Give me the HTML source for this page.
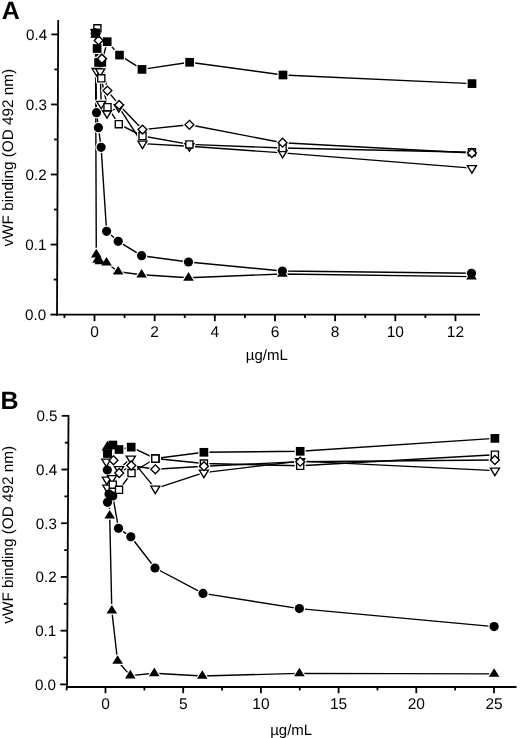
<!DOCTYPE html>
<html><head><meta charset="utf-8"><style>
html,body{margin:0;padding:0;background:#fff;overflow:hidden;width:520px;height:738px;}
svg{display:block;filter:grayscale(1);}
text{font-family:"Liberation Sans", sans-serif;fill:#000;text-rendering:geometricPrecision;}
</style></head><body>
<svg width="520" height="738" viewBox="0 0 520 738">
<rect width="520" height="738" fill="#fff"/>
<line x1="58.20" y1="20.00" x2="57.00" y2="315.40" stroke="#000" stroke-width="1.8"/>
<line x1="56.20" y1="314.60" x2="480.00" y2="314.60" stroke="#000" stroke-width="1.8"/>
<line x1="50.40" y1="314.60" x2="57.20" y2="314.60" stroke="#000" stroke-width="1.8"/>
<text x="46.20" y="319.90" font-size="15.2" text-anchor="end" font-weight="normal" >0.0</text>
<line x1="50.64" y1="244.55" x2="57.44" y2="244.55" stroke="#000" stroke-width="1.8"/>
<text x="46.44" y="249.85" font-size="15.2" text-anchor="end" font-weight="normal" >0.1</text>
<line x1="50.88" y1="174.50" x2="57.68" y2="174.50" stroke="#000" stroke-width="1.8"/>
<text x="46.68" y="179.80" font-size="15.2" text-anchor="end" font-weight="normal" >0.2</text>
<line x1="51.11" y1="104.45" x2="57.91" y2="104.45" stroke="#000" stroke-width="1.8"/>
<text x="46.91" y="109.75" font-size="15.2" text-anchor="end" font-weight="normal" >0.3</text>
<line x1="51.35" y1="34.40" x2="58.15" y2="34.40" stroke="#000" stroke-width="1.8"/>
<text x="47.15" y="39.70" font-size="15.2" text-anchor="end" font-weight="normal" >0.4</text>
<line x1="53.72" y1="279.58" x2="57.32" y2="279.58" stroke="#000" stroke-width="1.8"/>
<line x1="53.96" y1="209.53" x2="57.56" y2="209.53" stroke="#000" stroke-width="1.8"/>
<line x1="54.19" y1="139.48" x2="57.79" y2="139.48" stroke="#000" stroke-width="1.8"/>
<line x1="54.43" y1="69.43" x2="58.03" y2="69.43" stroke="#000" stroke-width="1.8"/>
<line x1="64.42" y1="314.60" x2="64.42" y2="318.00" stroke="#000" stroke-width="1.8"/>
<line x1="94.50" y1="314.60" x2="94.50" y2="321.20" stroke="#000" stroke-width="1.8"/>
<text x="94.50" y="336.80" font-size="15.5" text-anchor="middle" font-weight="normal" >0</text>
<line x1="124.58" y1="314.60" x2="124.58" y2="318.00" stroke="#000" stroke-width="1.8"/>
<line x1="154.66" y1="314.60" x2="154.66" y2="321.20" stroke="#000" stroke-width="1.8"/>
<text x="154.66" y="336.80" font-size="15.5" text-anchor="middle" font-weight="normal" >2</text>
<line x1="184.74" y1="314.60" x2="184.74" y2="318.00" stroke="#000" stroke-width="1.8"/>
<line x1="214.82" y1="314.60" x2="214.82" y2="321.20" stroke="#000" stroke-width="1.8"/>
<text x="214.82" y="336.80" font-size="15.5" text-anchor="middle" font-weight="normal" >4</text>
<line x1="244.90" y1="314.60" x2="244.90" y2="318.00" stroke="#000" stroke-width="1.8"/>
<line x1="274.98" y1="314.60" x2="274.98" y2="321.20" stroke="#000" stroke-width="1.8"/>
<text x="274.98" y="336.80" font-size="15.5" text-anchor="middle" font-weight="normal" >6</text>
<line x1="305.06" y1="314.60" x2="305.06" y2="318.00" stroke="#000" stroke-width="1.8"/>
<line x1="335.14" y1="314.60" x2="335.14" y2="321.20" stroke="#000" stroke-width="1.8"/>
<text x="335.14" y="336.80" font-size="15.5" text-anchor="middle" font-weight="normal" >8</text>
<line x1="365.22" y1="314.60" x2="365.22" y2="318.00" stroke="#000" stroke-width="1.8"/>
<line x1="395.30" y1="314.60" x2="395.30" y2="321.20" stroke="#000" stroke-width="1.8"/>
<text x="395.30" y="336.80" font-size="15.5" text-anchor="middle" font-weight="normal" >10</text>
<line x1="425.38" y1="314.60" x2="425.38" y2="318.00" stroke="#000" stroke-width="1.8"/>
<line x1="455.46" y1="314.60" x2="455.46" y2="321.20" stroke="#000" stroke-width="1.8"/>
<text x="455.46" y="336.80" font-size="15.5" text-anchor="middle" font-weight="normal" >12</text>
<text x="266.80" y="359.70" font-size="15" text-anchor="middle" font-weight="normal" >µg/mL</text>
<text x="0" y="0" font-size="15.3" text-anchor="middle" transform="translate(12.6,157.7) rotate(-90)">vWF binding (OD 492 nm)</text>
<text x="1.70" y="18.80" font-size="25" text-anchor="start" font-weight="bold" >A</text>
<path d="M95.60 33.00L97.10 48.50L98.60 62.40L101.80 62.40L107.20 41.70L119.50 55.10L142.00 69.40L189.60 62.30L283.00 75.00L472.00 83.60" fill="none" stroke="#000" stroke-width="1.4" stroke-linejoin="round"/>
<path d="M95.50 32.10L96.60 71.00L100.20 71.40L101.20 103.80L107.00 113.20L118.80 107.20L142.50 143.60L189.40 146.20L282.60 152.90L471.90 168.10" fill="none" stroke="#000" stroke-width="1.4" stroke-linejoin="round"/>
<path d="M97.40 28.30L101.30 78.30L107.50 107.20L118.80 124.20L142.50 136.00L189.40 144.40L282.60 148.00L471.90 152.30" fill="none" stroke="#000" stroke-width="1.4" stroke-linejoin="round"/>
<path d="M95.80 33.50L98.70 40.40L101.90 58.70L107.40 90.60L119.10 104.90L142.50 129.60L189.40 124.80L282.60 142.70L471.90 153.00" fill="none" stroke="#000" stroke-width="1.4" stroke-linejoin="round"/>
<path d="M95.50 34.90L96.30 254.60L97.60 259.90L99.80 261.40L106.50 262.70L118.20 271.70L141.60 274.70L188.50 277.80L282.40 274.00L471.50 276.60" fill="none" stroke="#000" stroke-width="1.4" stroke-linejoin="round"/>
<path d="M95.30 33.00L96.50 112.70L98.40 127.70L101.10 147.30L106.60 231.30L118.20 241.30L141.60 255.70L188.50 262.00L282.40 271.00L471.50 273.30" fill="none" stroke="#000" stroke-width="1.4" stroke-linejoin="round"/>
<path d="M91.25 28.65h8.7v8.7h-8.7Z" fill="#fff" stroke="#fff" stroke-width="2.40" stroke-linejoin="round"/>
<path d="M92.75 44.15h8.7v8.7h-8.7Z" fill="#fff" stroke="#fff" stroke-width="2.40" stroke-linejoin="round"/>
<path d="M94.25 58.05h8.7v8.7h-8.7Z" fill="#fff" stroke="#fff" stroke-width="2.40" stroke-linejoin="round"/>
<path d="M97.45 58.05h8.7v8.7h-8.7Z" fill="#fff" stroke="#fff" stroke-width="2.40" stroke-linejoin="round"/>
<path d="M102.85 37.35h8.7v8.7h-8.7Z" fill="#fff" stroke="#fff" stroke-width="2.40" stroke-linejoin="round"/>
<path d="M115.15 50.75h8.7v8.7h-8.7Z" fill="#fff" stroke="#fff" stroke-width="2.40" stroke-linejoin="round"/>
<path d="M137.65 65.05h8.7v8.7h-8.7Z" fill="#fff" stroke="#fff" stroke-width="2.40" stroke-linejoin="round"/>
<path d="M185.25 57.95h8.7v8.7h-8.7Z" fill="#fff" stroke="#fff" stroke-width="2.40" stroke-linejoin="round"/>
<path d="M278.65 70.65h8.7v8.7h-8.7Z" fill="#fff" stroke="#fff" stroke-width="2.40" stroke-linejoin="round"/>
<path d="M467.65 79.25h8.7v8.7h-8.7Z" fill="#fff" stroke="#fff" stroke-width="2.40" stroke-linejoin="round"/>
<path d="M90.95 29.60L100.05 29.60L95.50 37.10Z" fill="#fff" stroke="#fff" stroke-width="3.75" stroke-linejoin="round"/>
<path d="M92.05 68.50L101.15 68.50L96.60 76.00Z" fill="#fff" stroke="#fff" stroke-width="3.75" stroke-linejoin="round"/>
<path d="M95.65 68.90L104.75 68.90L100.20 76.40Z" fill="#fff" stroke="#fff" stroke-width="3.75" stroke-linejoin="round"/>
<path d="M96.65 101.30L105.75 101.30L101.20 108.80Z" fill="#fff" stroke="#fff" stroke-width="3.75" stroke-linejoin="round"/>
<path d="M102.45 110.70L111.55 110.70L107.00 118.20Z" fill="#fff" stroke="#fff" stroke-width="3.75" stroke-linejoin="round"/>
<path d="M114.25 104.70L123.35 104.70L118.80 112.20Z" fill="#fff" stroke="#fff" stroke-width="3.75" stroke-linejoin="round"/>
<path d="M137.95 141.10L147.05 141.10L142.50 148.60Z" fill="#fff" stroke="#fff" stroke-width="3.75" stroke-linejoin="round"/>
<path d="M184.85 143.70L193.95 143.70L189.40 151.20Z" fill="#fff" stroke="#fff" stroke-width="3.75" stroke-linejoin="round"/>
<path d="M278.05 150.40L287.15 150.40L282.60 157.90Z" fill="#fff" stroke="#fff" stroke-width="3.75" stroke-linejoin="round"/>
<path d="M467.35 165.60L476.45 165.60L471.90 173.10Z" fill="#fff" stroke="#fff" stroke-width="3.75" stroke-linejoin="round"/>
<path d="M93.85 24.75h7.1v7.1h-7.1Z" fill="#fff" stroke="#fff" stroke-width="3.75" stroke-linejoin="round"/>
<path d="M97.75 74.75h7.1v7.1h-7.1Z" fill="#fff" stroke="#fff" stroke-width="3.75" stroke-linejoin="round"/>
<path d="M103.95 103.65h7.1v7.1h-7.1Z" fill="#fff" stroke="#fff" stroke-width="3.75" stroke-linejoin="round"/>
<path d="M115.25 120.65h7.1v7.1h-7.1Z" fill="#fff" stroke="#fff" stroke-width="3.75" stroke-linejoin="round"/>
<path d="M138.95 132.45h7.1v7.1h-7.1Z" fill="#fff" stroke="#fff" stroke-width="3.75" stroke-linejoin="round"/>
<path d="M185.85 140.85h7.1v7.1h-7.1Z" fill="#fff" stroke="#fff" stroke-width="3.75" stroke-linejoin="round"/>
<path d="M279.05 144.45h7.1v7.1h-7.1Z" fill="#fff" stroke="#fff" stroke-width="3.75" stroke-linejoin="round"/>
<path d="M468.35 148.75h7.1v7.1h-7.1Z" fill="#fff" stroke="#fff" stroke-width="3.75" stroke-linejoin="round"/>
<path d="M95.80 29.05L100.25 33.50L95.80 37.95L91.35 33.50Z" fill="#fff" stroke="#fff" stroke-width="3.75" stroke-linejoin="round"/>
<path d="M98.70 35.95L103.15 40.40L98.70 44.85L94.25 40.40Z" fill="#fff" stroke="#fff" stroke-width="3.75" stroke-linejoin="round"/>
<path d="M101.90 54.25L106.35 58.70L101.90 63.15L97.45 58.70Z" fill="#fff" stroke="#fff" stroke-width="3.75" stroke-linejoin="round"/>
<path d="M107.40 86.15L111.85 90.60L107.40 95.05L102.95 90.60Z" fill="#fff" stroke="#fff" stroke-width="3.75" stroke-linejoin="round"/>
<path d="M119.10 100.45L123.55 104.90L119.10 109.35L114.65 104.90Z" fill="#fff" stroke="#fff" stroke-width="3.75" stroke-linejoin="round"/>
<path d="M142.50 125.15L146.95 129.60L142.50 134.05L138.05 129.60Z" fill="#fff" stroke="#fff" stroke-width="3.75" stroke-linejoin="round"/>
<path d="M189.40 120.35L193.85 124.80L189.40 129.25L184.95 124.80Z" fill="#fff" stroke="#fff" stroke-width="3.75" stroke-linejoin="round"/>
<path d="M282.60 138.25L287.05 142.70L282.60 147.15L278.15 142.70Z" fill="#fff" stroke="#fff" stroke-width="3.75" stroke-linejoin="round"/>
<path d="M471.90 148.55L476.35 153.00L471.90 157.45L467.45 153.00Z" fill="#fff" stroke="#fff" stroke-width="3.75" stroke-linejoin="round"/>
<path d="M95.50 29.17L100.80 37.77L90.20 37.77Z" fill="#fff" stroke="#fff" stroke-width="2.40" stroke-linejoin="round"/>
<path d="M96.30 248.87L101.60 257.47L91.00 257.47Z" fill="#fff" stroke="#fff" stroke-width="2.40" stroke-linejoin="round"/>
<path d="M97.60 254.17L102.90 262.77L92.30 262.77Z" fill="#fff" stroke="#fff" stroke-width="2.40" stroke-linejoin="round"/>
<path d="M99.80 255.67L105.10 264.27L94.50 264.27Z" fill="#fff" stroke="#fff" stroke-width="2.40" stroke-linejoin="round"/>
<path d="M106.50 256.97L111.80 265.57L101.20 265.57Z" fill="#fff" stroke="#fff" stroke-width="2.40" stroke-linejoin="round"/>
<path d="M118.20 265.97L123.50 274.57L112.90 274.57Z" fill="#fff" stroke="#fff" stroke-width="2.40" stroke-linejoin="round"/>
<path d="M141.60 268.97L146.90 277.57L136.30 277.57Z" fill="#fff" stroke="#fff" stroke-width="2.40" stroke-linejoin="round"/>
<path d="M188.50 272.07L193.80 280.67L183.20 280.67Z" fill="#fff" stroke="#fff" stroke-width="2.40" stroke-linejoin="round"/>
<path d="M282.40 268.27L287.70 276.87L277.10 276.87Z" fill="#fff" stroke="#fff" stroke-width="2.40" stroke-linejoin="round"/>
<path d="M471.50 270.87L476.80 279.47L466.20 279.47Z" fill="#fff" stroke="#fff" stroke-width="2.40" stroke-linejoin="round"/>
<path d="M90.70 33.00a4.6 4.6 0 1 0 9.2 0a4.6 4.6 0 1 0 -9.2 0Z" fill="#fff" stroke="#fff" stroke-width="2.40" stroke-linejoin="round"/>
<path d="M91.90 112.70a4.6 4.6 0 1 0 9.2 0a4.6 4.6 0 1 0 -9.2 0Z" fill="#fff" stroke="#fff" stroke-width="2.40" stroke-linejoin="round"/>
<path d="M93.80 127.70a4.6 4.6 0 1 0 9.2 0a4.6 4.6 0 1 0 -9.2 0Z" fill="#fff" stroke="#fff" stroke-width="2.40" stroke-linejoin="round"/>
<path d="M96.50 147.30a4.6 4.6 0 1 0 9.2 0a4.6 4.6 0 1 0 -9.2 0Z" fill="#fff" stroke="#fff" stroke-width="2.40" stroke-linejoin="round"/>
<path d="M102.00 231.30a4.6 4.6 0 1 0 9.2 0a4.6 4.6 0 1 0 -9.2 0Z" fill="#fff" stroke="#fff" stroke-width="2.40" stroke-linejoin="round"/>
<path d="M113.60 241.30a4.6 4.6 0 1 0 9.2 0a4.6 4.6 0 1 0 -9.2 0Z" fill="#fff" stroke="#fff" stroke-width="2.40" stroke-linejoin="round"/>
<path d="M137.00 255.70a4.6 4.6 0 1 0 9.2 0a4.6 4.6 0 1 0 -9.2 0Z" fill="#fff" stroke="#fff" stroke-width="2.40" stroke-linejoin="round"/>
<path d="M183.90 262.00a4.6 4.6 0 1 0 9.2 0a4.6 4.6 0 1 0 -9.2 0Z" fill="#fff" stroke="#fff" stroke-width="2.40" stroke-linejoin="round"/>
<path d="M277.80 271.00a4.6 4.6 0 1 0 9.2 0a4.6 4.6 0 1 0 -9.2 0Z" fill="#fff" stroke="#fff" stroke-width="2.40" stroke-linejoin="round"/>
<path d="M466.90 273.30a4.6 4.6 0 1 0 9.2 0a4.6 4.6 0 1 0 -9.2 0Z" fill="#fff" stroke="#fff" stroke-width="2.40" stroke-linejoin="round"/>
<path d="M90.95 29.60L100.05 29.60L95.50 37.10Z" fill="#fff" stroke="#000" stroke-width="1.35" stroke-linejoin="miter"/>
<path d="M92.05 68.50L101.15 68.50L96.60 76.00Z" fill="#fff" stroke="#000" stroke-width="1.35" stroke-linejoin="miter"/>
<path d="M95.65 68.90L104.75 68.90L100.20 76.40Z" fill="#fff" stroke="#000" stroke-width="1.35" stroke-linejoin="miter"/>
<path d="M96.65 101.30L105.75 101.30L101.20 108.80Z" fill="#fff" stroke="#000" stroke-width="1.35" stroke-linejoin="miter"/>
<path d="M102.45 110.70L111.55 110.70L107.00 118.20Z" fill="#fff" stroke="#000" stroke-width="1.35" stroke-linejoin="miter"/>
<path d="M114.25 104.70L123.35 104.70L118.80 112.20Z" fill="#fff" stroke="#000" stroke-width="1.35" stroke-linejoin="miter"/>
<path d="M137.95 141.10L147.05 141.10L142.50 148.60Z" fill="#fff" stroke="#000" stroke-width="1.35" stroke-linejoin="miter"/>
<path d="M184.85 143.70L193.95 143.70L189.40 151.20Z" fill="#fff" stroke="#000" stroke-width="1.35" stroke-linejoin="miter"/>
<path d="M278.05 150.40L287.15 150.40L282.60 157.90Z" fill="#fff" stroke="#000" stroke-width="1.35" stroke-linejoin="miter"/>
<path d="M467.35 165.60L476.45 165.60L471.90 173.10Z" fill="#fff" stroke="#000" stroke-width="1.35" stroke-linejoin="miter"/>
<path d="M93.85 24.75h7.1v7.1h-7.1Z" fill="#fff" stroke="#000" stroke-width="1.35" stroke-linejoin="miter"/>
<path d="M97.75 74.75h7.1v7.1h-7.1Z" fill="#fff" stroke="#000" stroke-width="1.35" stroke-linejoin="miter"/>
<path d="M103.95 103.65h7.1v7.1h-7.1Z" fill="#fff" stroke="#000" stroke-width="1.35" stroke-linejoin="miter"/>
<path d="M115.25 120.65h7.1v7.1h-7.1Z" fill="#fff" stroke="#000" stroke-width="1.35" stroke-linejoin="miter"/>
<path d="M138.95 132.45h7.1v7.1h-7.1Z" fill="#fff" stroke="#000" stroke-width="1.35" stroke-linejoin="miter"/>
<path d="M185.85 140.85h7.1v7.1h-7.1Z" fill="#fff" stroke="#000" stroke-width="1.35" stroke-linejoin="miter"/>
<path d="M279.05 144.45h7.1v7.1h-7.1Z" fill="#fff" stroke="#000" stroke-width="1.35" stroke-linejoin="miter"/>
<path d="M468.35 148.75h7.1v7.1h-7.1Z" fill="#fff" stroke="#000" stroke-width="1.35" stroke-linejoin="miter"/>
<path d="M95.80 29.05L100.25 33.50L95.80 37.95L91.35 33.50Z" fill="#fff" stroke="#000" stroke-width="1.35" stroke-linejoin="miter"/>
<path d="M98.70 35.95L103.15 40.40L98.70 44.85L94.25 40.40Z" fill="#fff" stroke="#000" stroke-width="1.35" stroke-linejoin="miter"/>
<path d="M101.90 54.25L106.35 58.70L101.90 63.15L97.45 58.70Z" fill="#fff" stroke="#000" stroke-width="1.35" stroke-linejoin="miter"/>
<path d="M107.40 86.15L111.85 90.60L107.40 95.05L102.95 90.60Z" fill="#fff" stroke="#000" stroke-width="1.35" stroke-linejoin="miter"/>
<path d="M119.10 100.45L123.55 104.90L119.10 109.35L114.65 104.90Z" fill="#fff" stroke="#000" stroke-width="1.35" stroke-linejoin="miter"/>
<path d="M142.50 125.15L146.95 129.60L142.50 134.05L138.05 129.60Z" fill="#fff" stroke="#000" stroke-width="1.35" stroke-linejoin="miter"/>
<path d="M189.40 120.35L193.85 124.80L189.40 129.25L184.95 124.80Z" fill="#fff" stroke="#000" stroke-width="1.35" stroke-linejoin="miter"/>
<path d="M282.60 138.25L287.05 142.70L282.60 147.15L278.15 142.70Z" fill="#fff" stroke="#000" stroke-width="1.35" stroke-linejoin="miter"/>
<path d="M471.90 148.55L476.35 153.00L471.90 157.45L467.45 153.00Z" fill="#fff" stroke="#000" stroke-width="1.35" stroke-linejoin="miter"/>
<path d="M91.25 28.65h8.7v8.7h-8.7Z" fill="#000"/>
<path d="M92.75 44.15h8.7v8.7h-8.7Z" fill="#000"/>
<path d="M94.25 58.05h8.7v8.7h-8.7Z" fill="#000"/>
<path d="M97.45 58.05h8.7v8.7h-8.7Z" fill="#000"/>
<path d="M102.85 37.35h8.7v8.7h-8.7Z" fill="#000"/>
<path d="M115.15 50.75h8.7v8.7h-8.7Z" fill="#000"/>
<path d="M137.65 65.05h8.7v8.7h-8.7Z" fill="#000"/>
<path d="M185.25 57.95h8.7v8.7h-8.7Z" fill="#000"/>
<path d="M278.65 70.65h8.7v8.7h-8.7Z" fill="#000"/>
<path d="M467.65 79.25h8.7v8.7h-8.7Z" fill="#000"/>
<path d="M95.50 29.17L100.80 37.77L90.20 37.77Z" fill="#000"/>
<path d="M96.30 248.87L101.60 257.47L91.00 257.47Z" fill="#000"/>
<path d="M97.60 254.17L102.90 262.77L92.30 262.77Z" fill="#000"/>
<path d="M99.80 255.67L105.10 264.27L94.50 264.27Z" fill="#000"/>
<path d="M106.50 256.97L111.80 265.57L101.20 265.57Z" fill="#000"/>
<path d="M118.20 265.97L123.50 274.57L112.90 274.57Z" fill="#000"/>
<path d="M141.60 268.97L146.90 277.57L136.30 277.57Z" fill="#000"/>
<path d="M188.50 272.07L193.80 280.67L183.20 280.67Z" fill="#000"/>
<path d="M282.40 268.27L287.70 276.87L277.10 276.87Z" fill="#000"/>
<path d="M471.50 270.87L476.80 279.47L466.20 279.47Z" fill="#000"/>
<path d="M90.70 33.00a4.6 4.6 0 1 0 9.2 0a4.6 4.6 0 1 0 -9.2 0Z" fill="#000"/>
<path d="M91.90 112.70a4.6 4.6 0 1 0 9.2 0a4.6 4.6 0 1 0 -9.2 0Z" fill="#000"/>
<path d="M93.80 127.70a4.6 4.6 0 1 0 9.2 0a4.6 4.6 0 1 0 -9.2 0Z" fill="#000"/>
<path d="M96.50 147.30a4.6 4.6 0 1 0 9.2 0a4.6 4.6 0 1 0 -9.2 0Z" fill="#000"/>
<path d="M102.00 231.30a4.6 4.6 0 1 0 9.2 0a4.6 4.6 0 1 0 -9.2 0Z" fill="#000"/>
<path d="M113.60 241.30a4.6 4.6 0 1 0 9.2 0a4.6 4.6 0 1 0 -9.2 0Z" fill="#000"/>
<path d="M137.00 255.70a4.6 4.6 0 1 0 9.2 0a4.6 4.6 0 1 0 -9.2 0Z" fill="#000"/>
<path d="M183.90 262.00a4.6 4.6 0 1 0 9.2 0a4.6 4.6 0 1 0 -9.2 0Z" fill="#000"/>
<path d="M277.80 271.00a4.6 4.6 0 1 0 9.2 0a4.6 4.6 0 1 0 -9.2 0Z" fill="#000"/>
<path d="M466.90 273.30a4.6 4.6 0 1 0 9.2 0a4.6 4.6 0 1 0 -9.2 0Z" fill="#000"/>
<path d="M101.90 54.25L106.35 58.70L101.90 63.15L97.45 58.70Z" fill="#fff" stroke="#000" stroke-width="1.35" stroke-linejoin="miter"/>
<line x1="68.50" y1="415.00" x2="67.00" y2="688.00" stroke="#000" stroke-width="1.8"/>
<line x1="66.20" y1="687.00" x2="516.50" y2="687.00" stroke="#000" stroke-width="1.8"/>
<line x1="60.20" y1="684.40" x2="67.00" y2="684.40" stroke="#000" stroke-width="1.8"/>
<text x="56.00" y="689.70" font-size="15.2" text-anchor="end" font-weight="normal" >0.0</text>
<line x1="60.50" y1="630.68" x2="67.30" y2="630.68" stroke="#000" stroke-width="1.8"/>
<text x="56.30" y="635.98" font-size="15.2" text-anchor="end" font-weight="normal" >0.1</text>
<line x1="60.80" y1="576.96" x2="67.60" y2="576.96" stroke="#000" stroke-width="1.8"/>
<text x="56.60" y="582.26" font-size="15.2" text-anchor="end" font-weight="normal" >0.2</text>
<line x1="61.10" y1="523.24" x2="67.90" y2="523.24" stroke="#000" stroke-width="1.8"/>
<text x="56.90" y="528.54" font-size="15.2" text-anchor="end" font-weight="normal" >0.3</text>
<line x1="61.40" y1="469.52" x2="68.20" y2="469.52" stroke="#000" stroke-width="1.8"/>
<text x="57.20" y="474.82" font-size="15.2" text-anchor="end" font-weight="normal" >0.4</text>
<line x1="61.70" y1="415.80" x2="68.50" y2="415.80" stroke="#000" stroke-width="1.8"/>
<text x="57.50" y="421.10" font-size="15.2" text-anchor="end" font-weight="normal" >0.5</text>
<line x1="63.55" y1="657.54" x2="67.15" y2="657.54" stroke="#000" stroke-width="1.8"/>
<line x1="63.85" y1="603.82" x2="67.45" y2="603.82" stroke="#000" stroke-width="1.8"/>
<line x1="64.15" y1="550.10" x2="67.75" y2="550.10" stroke="#000" stroke-width="1.8"/>
<line x1="64.45" y1="496.38" x2="68.05" y2="496.38" stroke="#000" stroke-width="1.8"/>
<line x1="64.75" y1="442.66" x2="68.35" y2="442.66" stroke="#000" stroke-width="1.8"/>
<line x1="66.65" y1="687.00" x2="66.65" y2="690.40" stroke="#000" stroke-width="1.8"/>
<line x1="105.50" y1="687.00" x2="105.50" y2="693.20" stroke="#000" stroke-width="1.8"/>
<text x="105.50" y="708.80" font-size="15.5" text-anchor="middle" font-weight="normal" >0</text>
<line x1="144.35" y1="687.00" x2="144.35" y2="690.40" stroke="#000" stroke-width="1.8"/>
<line x1="183.20" y1="687.00" x2="183.20" y2="693.20" stroke="#000" stroke-width="1.8"/>
<text x="183.20" y="708.80" font-size="15.5" text-anchor="middle" font-weight="normal" >5</text>
<line x1="222.05" y1="687.00" x2="222.05" y2="690.40" stroke="#000" stroke-width="1.8"/>
<line x1="260.90" y1="687.00" x2="260.90" y2="693.20" stroke="#000" stroke-width="1.8"/>
<text x="260.90" y="708.80" font-size="15.5" text-anchor="middle" font-weight="normal" >10</text>
<line x1="299.75" y1="687.00" x2="299.75" y2="690.40" stroke="#000" stroke-width="1.8"/>
<line x1="338.60" y1="687.00" x2="338.60" y2="693.20" stroke="#000" stroke-width="1.8"/>
<text x="338.60" y="708.80" font-size="15.5" text-anchor="middle" font-weight="normal" >15</text>
<line x1="377.45" y1="687.00" x2="377.45" y2="690.40" stroke="#000" stroke-width="1.8"/>
<line x1="416.30" y1="687.00" x2="416.30" y2="693.20" stroke="#000" stroke-width="1.8"/>
<text x="416.30" y="708.80" font-size="15.5" text-anchor="middle" font-weight="normal" >20</text>
<line x1="455.15" y1="687.00" x2="455.15" y2="690.40" stroke="#000" stroke-width="1.8"/>
<line x1="494.00" y1="687.00" x2="494.00" y2="693.20" stroke="#000" stroke-width="1.8"/>
<text x="494.00" y="708.80" font-size="15.5" text-anchor="middle" font-weight="normal" >25</text>
<text x="291.20" y="734.60" font-size="15" text-anchor="middle" font-weight="normal" >µg/mL</text>
<text x="0" y="0" font-size="15.3" text-anchor="middle" transform="translate(12.6,534.8) rotate(-90)">vWF binding (OD 492 nm)</text>
<text x="0.40" y="408.60" font-size="25" text-anchor="start" font-weight="bold" >B</text>
<path d="M107.50 453.50L112.90 445.00L119.00 449.50L131.20 447.10L155.30 458.50L203.90 452.30L300.20 451.30L494.90 438.40" fill="none" stroke="#000" stroke-width="1.4" stroke-linejoin="round"/>
<path d="M106.30 461.60L106.80 479.60L107.30 487.60L112.00 478.10L119.00 469.10L130.80 458.60L155.30 488.60L203.90 472.60L300.20 461.10L494.90 470.60" fill="none" stroke="#000" stroke-width="1.4" stroke-linejoin="round"/>
<path d="M107.50 453.00L112.80 484.70L119.00 489.80L131.50 473.00L155.30 458.50L203.90 463.50L300.20 465.80L494.90 454.70" fill="none" stroke="#000" stroke-width="1.4" stroke-linejoin="round"/>
<path d="M107.20 450.00L113.50 460.30L119.25 473.00L131.25 465.50L155.30 469.30L203.90 466.20L300.20 461.70L494.90 460.00" fill="none" stroke="#000" stroke-width="1.4" stroke-linejoin="round"/>
<path d="M107.50 446.50L109.70 515.70L111.80 610.70L117.60 661.00L130.30 675.60L154.30 673.30L202.30 676.00L299.40 673.40L494.10 673.90" fill="none" stroke="#000" stroke-width="1.4" stroke-linejoin="round"/>
<path d="M107.30 470.00L107.50 502.30L109.00 494.00L112.80 496.00L118.50 528.30L130.80 536.80L155.00 568.00L203.00 593.40L299.40 608.60L494.10 626.60" fill="none" stroke="#000" stroke-width="1.4" stroke-linejoin="round"/>
<path d="M103.15 449.15h8.7v8.7h-8.7Z" fill="#fff" stroke="#fff" stroke-width="2.40" stroke-linejoin="round"/>
<path d="M108.55 440.65h8.7v8.7h-8.7Z" fill="#fff" stroke="#fff" stroke-width="2.40" stroke-linejoin="round"/>
<path d="M114.65 445.15h8.7v8.7h-8.7Z" fill="#fff" stroke="#fff" stroke-width="2.40" stroke-linejoin="round"/>
<path d="M126.85 442.75h8.7v8.7h-8.7Z" fill="#fff" stroke="#fff" stroke-width="2.40" stroke-linejoin="round"/>
<path d="M150.95 454.15h8.7v8.7h-8.7Z" fill="#fff" stroke="#fff" stroke-width="2.40" stroke-linejoin="round"/>
<path d="M199.55 447.95h8.7v8.7h-8.7Z" fill="#fff" stroke="#fff" stroke-width="2.40" stroke-linejoin="round"/>
<path d="M295.85 446.95h8.7v8.7h-8.7Z" fill="#fff" stroke="#fff" stroke-width="2.40" stroke-linejoin="round"/>
<path d="M490.55 434.05h8.7v8.7h-8.7Z" fill="#fff" stroke="#fff" stroke-width="2.40" stroke-linejoin="round"/>
<path d="M101.75 459.10L110.85 459.10L106.30 466.60Z" fill="#fff" stroke="#fff" stroke-width="3.75" stroke-linejoin="round"/>
<path d="M102.25 477.10L111.35 477.10L106.80 484.60Z" fill="#fff" stroke="#fff" stroke-width="3.75" stroke-linejoin="round"/>
<path d="M102.75 485.10L111.85 485.10L107.30 492.60Z" fill="#fff" stroke="#fff" stroke-width="3.75" stroke-linejoin="round"/>
<path d="M107.45 475.60L116.55 475.60L112.00 483.10Z" fill="#fff" stroke="#fff" stroke-width="3.75" stroke-linejoin="round"/>
<path d="M114.45 466.60L123.55 466.60L119.00 474.10Z" fill="#fff" stroke="#fff" stroke-width="3.75" stroke-linejoin="round"/>
<path d="M126.25 456.10L135.35 456.10L130.80 463.60Z" fill="#fff" stroke="#fff" stroke-width="3.75" stroke-linejoin="round"/>
<path d="M150.75 486.10L159.85 486.10L155.30 493.60Z" fill="#fff" stroke="#fff" stroke-width="3.75" stroke-linejoin="round"/>
<path d="M199.35 470.10L208.45 470.10L203.90 477.60Z" fill="#fff" stroke="#fff" stroke-width="3.75" stroke-linejoin="round"/>
<path d="M295.65 458.60L304.75 458.60L300.20 466.10Z" fill="#fff" stroke="#fff" stroke-width="3.75" stroke-linejoin="round"/>
<path d="M490.35 468.10L499.45 468.10L494.90 475.60Z" fill="#fff" stroke="#fff" stroke-width="3.75" stroke-linejoin="round"/>
<path d="M103.95 449.45h7.1v7.1h-7.1Z" fill="#fff" stroke="#fff" stroke-width="3.75" stroke-linejoin="round"/>
<path d="M109.25 481.15h7.1v7.1h-7.1Z" fill="#fff" stroke="#fff" stroke-width="3.75" stroke-linejoin="round"/>
<path d="M115.45 486.25h7.1v7.1h-7.1Z" fill="#fff" stroke="#fff" stroke-width="3.75" stroke-linejoin="round"/>
<path d="M127.95 469.45h7.1v7.1h-7.1Z" fill="#fff" stroke="#fff" stroke-width="3.75" stroke-linejoin="round"/>
<path d="M151.75 454.95h7.1v7.1h-7.1Z" fill="#fff" stroke="#fff" stroke-width="3.75" stroke-linejoin="round"/>
<path d="M200.35 459.95h7.1v7.1h-7.1Z" fill="#fff" stroke="#fff" stroke-width="3.75" stroke-linejoin="round"/>
<path d="M296.65 462.25h7.1v7.1h-7.1Z" fill="#fff" stroke="#fff" stroke-width="3.75" stroke-linejoin="round"/>
<path d="M491.35 451.15h7.1v7.1h-7.1Z" fill="#fff" stroke="#fff" stroke-width="3.75" stroke-linejoin="round"/>
<path d="M107.20 445.55L111.65 450.00L107.20 454.45L102.75 450.00Z" fill="#fff" stroke="#fff" stroke-width="3.75" stroke-linejoin="round"/>
<path d="M113.50 455.85L117.95 460.30L113.50 464.75L109.05 460.30Z" fill="#fff" stroke="#fff" stroke-width="3.75" stroke-linejoin="round"/>
<path d="M119.25 468.55L123.70 473.00L119.25 477.45L114.80 473.00Z" fill="#fff" stroke="#fff" stroke-width="3.75" stroke-linejoin="round"/>
<path d="M131.25 461.05L135.70 465.50L131.25 469.95L126.80 465.50Z" fill="#fff" stroke="#fff" stroke-width="3.75" stroke-linejoin="round"/>
<path d="M155.30 464.85L159.75 469.30L155.30 473.75L150.85 469.30Z" fill="#fff" stroke="#fff" stroke-width="3.75" stroke-linejoin="round"/>
<path d="M203.90 461.75L208.35 466.20L203.90 470.65L199.45 466.20Z" fill="#fff" stroke="#fff" stroke-width="3.75" stroke-linejoin="round"/>
<path d="M300.20 457.25L304.65 461.70L300.20 466.15L295.75 461.70Z" fill="#fff" stroke="#fff" stroke-width="3.75" stroke-linejoin="round"/>
<path d="M494.90 455.55L499.35 460.00L494.90 464.45L490.45 460.00Z" fill="#fff" stroke="#fff" stroke-width="3.75" stroke-linejoin="round"/>
<path d="M107.50 440.77L112.80 449.37L102.20 449.37Z" fill="#fff" stroke="#fff" stroke-width="2.40" stroke-linejoin="round"/>
<path d="M109.70 509.97L115.00 518.57L104.40 518.57Z" fill="#fff" stroke="#fff" stroke-width="2.40" stroke-linejoin="round"/>
<path d="M111.80 604.97L117.10 613.57L106.50 613.57Z" fill="#fff" stroke="#fff" stroke-width="2.40" stroke-linejoin="round"/>
<path d="M117.60 655.27L122.90 663.87L112.30 663.87Z" fill="#fff" stroke="#fff" stroke-width="2.40" stroke-linejoin="round"/>
<path d="M130.30 669.87L135.60 678.47L125.00 678.47Z" fill="#fff" stroke="#fff" stroke-width="2.40" stroke-linejoin="round"/>
<path d="M154.30 667.57L159.60 676.17L149.00 676.17Z" fill="#fff" stroke="#fff" stroke-width="2.40" stroke-linejoin="round"/>
<path d="M202.30 670.27L207.60 678.87L197.00 678.87Z" fill="#fff" stroke="#fff" stroke-width="2.40" stroke-linejoin="round"/>
<path d="M299.40 667.67L304.70 676.27L294.10 676.27Z" fill="#fff" stroke="#fff" stroke-width="2.40" stroke-linejoin="round"/>
<path d="M494.10 668.17L499.40 676.77L488.80 676.77Z" fill="#fff" stroke="#fff" stroke-width="2.40" stroke-linejoin="round"/>
<path d="M102.70 470.00a4.6 4.6 0 1 0 9.2 0a4.6 4.6 0 1 0 -9.2 0Z" fill="#fff" stroke="#fff" stroke-width="2.40" stroke-linejoin="round"/>
<path d="M102.90 502.30a4.6 4.6 0 1 0 9.2 0a4.6 4.6 0 1 0 -9.2 0Z" fill="#fff" stroke="#fff" stroke-width="2.40" stroke-linejoin="round"/>
<path d="M104.40 494.00a4.6 4.6 0 1 0 9.2 0a4.6 4.6 0 1 0 -9.2 0Z" fill="#fff" stroke="#fff" stroke-width="2.40" stroke-linejoin="round"/>
<path d="M108.20 496.00a4.6 4.6 0 1 0 9.2 0a4.6 4.6 0 1 0 -9.2 0Z" fill="#fff" stroke="#fff" stroke-width="2.40" stroke-linejoin="round"/>
<path d="M113.90 528.30a4.6 4.6 0 1 0 9.2 0a4.6 4.6 0 1 0 -9.2 0Z" fill="#fff" stroke="#fff" stroke-width="2.40" stroke-linejoin="round"/>
<path d="M126.20 536.80a4.6 4.6 0 1 0 9.2 0a4.6 4.6 0 1 0 -9.2 0Z" fill="#fff" stroke="#fff" stroke-width="2.40" stroke-linejoin="round"/>
<path d="M150.40 568.00a4.6 4.6 0 1 0 9.2 0a4.6 4.6 0 1 0 -9.2 0Z" fill="#fff" stroke="#fff" stroke-width="2.40" stroke-linejoin="round"/>
<path d="M198.40 593.40a4.6 4.6 0 1 0 9.2 0a4.6 4.6 0 1 0 -9.2 0Z" fill="#fff" stroke="#fff" stroke-width="2.40" stroke-linejoin="round"/>
<path d="M294.80 608.60a4.6 4.6 0 1 0 9.2 0a4.6 4.6 0 1 0 -9.2 0Z" fill="#fff" stroke="#fff" stroke-width="2.40" stroke-linejoin="round"/>
<path d="M489.50 626.60a4.6 4.6 0 1 0 9.2 0a4.6 4.6 0 1 0 -9.2 0Z" fill="#fff" stroke="#fff" stroke-width="2.40" stroke-linejoin="round"/>
<path d="M101.75 459.10L110.85 459.10L106.30 466.60Z" fill="#fff" stroke="#000" stroke-width="1.35" stroke-linejoin="miter"/>
<path d="M102.25 477.10L111.35 477.10L106.80 484.60Z" fill="#fff" stroke="#000" stroke-width="1.35" stroke-linejoin="miter"/>
<path d="M102.75 485.10L111.85 485.10L107.30 492.60Z" fill="#fff" stroke="#000" stroke-width="1.35" stroke-linejoin="miter"/>
<path d="M107.45 475.60L116.55 475.60L112.00 483.10Z" fill="#fff" stroke="#000" stroke-width="1.35" stroke-linejoin="miter"/>
<path d="M114.45 466.60L123.55 466.60L119.00 474.10Z" fill="#fff" stroke="#000" stroke-width="1.35" stroke-linejoin="miter"/>
<path d="M126.25 456.10L135.35 456.10L130.80 463.60Z" fill="#fff" stroke="#000" stroke-width="1.35" stroke-linejoin="miter"/>
<path d="M150.75 486.10L159.85 486.10L155.30 493.60Z" fill="#fff" stroke="#000" stroke-width="1.35" stroke-linejoin="miter"/>
<path d="M199.35 470.10L208.45 470.10L203.90 477.60Z" fill="#fff" stroke="#000" stroke-width="1.35" stroke-linejoin="miter"/>
<path d="M295.65 458.60L304.75 458.60L300.20 466.10Z" fill="#fff" stroke="#000" stroke-width="1.35" stroke-linejoin="miter"/>
<path d="M490.35 468.10L499.45 468.10L494.90 475.60Z" fill="#fff" stroke="#000" stroke-width="1.35" stroke-linejoin="miter"/>
<path d="M103.95 449.45h7.1v7.1h-7.1Z" fill="#fff" stroke="#000" stroke-width="1.35" stroke-linejoin="miter"/>
<path d="M109.25 481.15h7.1v7.1h-7.1Z" fill="#fff" stroke="#000" stroke-width="1.35" stroke-linejoin="miter"/>
<path d="M115.45 486.25h7.1v7.1h-7.1Z" fill="#fff" stroke="#000" stroke-width="1.35" stroke-linejoin="miter"/>
<path d="M127.95 469.45h7.1v7.1h-7.1Z" fill="#fff" stroke="#000" stroke-width="1.35" stroke-linejoin="miter"/>
<path d="M151.75 454.95h7.1v7.1h-7.1Z" fill="#fff" stroke="#000" stroke-width="1.35" stroke-linejoin="miter"/>
<path d="M200.35 459.95h7.1v7.1h-7.1Z" fill="#fff" stroke="#000" stroke-width="1.35" stroke-linejoin="miter"/>
<path d="M296.65 462.25h7.1v7.1h-7.1Z" fill="#fff" stroke="#000" stroke-width="1.35" stroke-linejoin="miter"/>
<path d="M491.35 451.15h7.1v7.1h-7.1Z" fill="#fff" stroke="#000" stroke-width="1.35" stroke-linejoin="miter"/>
<path d="M107.20 445.55L111.65 450.00L107.20 454.45L102.75 450.00Z" fill="#fff" stroke="#000" stroke-width="1.35" stroke-linejoin="miter"/>
<path d="M113.50 455.85L117.95 460.30L113.50 464.75L109.05 460.30Z" fill="#fff" stroke="#000" stroke-width="1.35" stroke-linejoin="miter"/>
<path d="M119.25 468.55L123.70 473.00L119.25 477.45L114.80 473.00Z" fill="#fff" stroke="#000" stroke-width="1.35" stroke-linejoin="miter"/>
<path d="M131.25 461.05L135.70 465.50L131.25 469.95L126.80 465.50Z" fill="#fff" stroke="#000" stroke-width="1.35" stroke-linejoin="miter"/>
<path d="M155.30 464.85L159.75 469.30L155.30 473.75L150.85 469.30Z" fill="#fff" stroke="#000" stroke-width="1.35" stroke-linejoin="miter"/>
<path d="M203.90 461.75L208.35 466.20L203.90 470.65L199.45 466.20Z" fill="#fff" stroke="#000" stroke-width="1.35" stroke-linejoin="miter"/>
<path d="M300.20 457.25L304.65 461.70L300.20 466.15L295.75 461.70Z" fill="#fff" stroke="#000" stroke-width="1.35" stroke-linejoin="miter"/>
<path d="M494.90 455.55L499.35 460.00L494.90 464.45L490.45 460.00Z" fill="#fff" stroke="#000" stroke-width="1.35" stroke-linejoin="miter"/>
<path d="M103.15 449.15h8.7v8.7h-8.7Z" fill="#000"/>
<path d="M108.55 440.65h8.7v8.7h-8.7Z" fill="#000"/>
<path d="M114.65 445.15h8.7v8.7h-8.7Z" fill="#000"/>
<path d="M126.85 442.75h8.7v8.7h-8.7Z" fill="#000"/>
<path d="M150.95 454.15h8.7v8.7h-8.7Z" fill="#000"/>
<path d="M199.55 447.95h8.7v8.7h-8.7Z" fill="#000"/>
<path d="M295.85 446.95h8.7v8.7h-8.7Z" fill="#000"/>
<path d="M490.55 434.05h8.7v8.7h-8.7Z" fill="#000"/>
<path d="M107.50 440.77L112.80 449.37L102.20 449.37Z" fill="#000"/>
<path d="M109.70 509.97L115.00 518.57L104.40 518.57Z" fill="#000"/>
<path d="M111.80 604.97L117.10 613.57L106.50 613.57Z" fill="#000"/>
<path d="M117.60 655.27L122.90 663.87L112.30 663.87Z" fill="#000"/>
<path d="M130.30 669.87L135.60 678.47L125.00 678.47Z" fill="#000"/>
<path d="M154.30 667.57L159.60 676.17L149.00 676.17Z" fill="#000"/>
<path d="M202.30 670.27L207.60 678.87L197.00 678.87Z" fill="#000"/>
<path d="M299.40 667.67L304.70 676.27L294.10 676.27Z" fill="#000"/>
<path d="M494.10 668.17L499.40 676.77L488.80 676.77Z" fill="#000"/>
<path d="M102.70 470.00a4.6 4.6 0 1 0 9.2 0a4.6 4.6 0 1 0 -9.2 0Z" fill="#000"/>
<path d="M102.90 502.30a4.6 4.6 0 1 0 9.2 0a4.6 4.6 0 1 0 -9.2 0Z" fill="#000"/>
<path d="M104.40 494.00a4.6 4.6 0 1 0 9.2 0a4.6 4.6 0 1 0 -9.2 0Z" fill="#000"/>
<path d="M108.20 496.00a4.6 4.6 0 1 0 9.2 0a4.6 4.6 0 1 0 -9.2 0Z" fill="#000"/>
<path d="M113.90 528.30a4.6 4.6 0 1 0 9.2 0a4.6 4.6 0 1 0 -9.2 0Z" fill="#000"/>
<path d="M126.20 536.80a4.6 4.6 0 1 0 9.2 0a4.6 4.6 0 1 0 -9.2 0Z" fill="#000"/>
<path d="M150.40 568.00a4.6 4.6 0 1 0 9.2 0a4.6 4.6 0 1 0 -9.2 0Z" fill="#000"/>
<path d="M198.40 593.40a4.6 4.6 0 1 0 9.2 0a4.6 4.6 0 1 0 -9.2 0Z" fill="#000"/>
<path d="M294.80 608.60a4.6 4.6 0 1 0 9.2 0a4.6 4.6 0 1 0 -9.2 0Z" fill="#000"/>
<path d="M489.50 626.60a4.6 4.6 0 1 0 9.2 0a4.6 4.6 0 1 0 -9.2 0Z" fill="#000"/>
<path d="M151.75 454.95h7.1v7.1h-7.1Z" fill="#fff" stroke="#000" stroke-width="1.35" stroke-linejoin="miter"/>
</svg>
</body></html>
